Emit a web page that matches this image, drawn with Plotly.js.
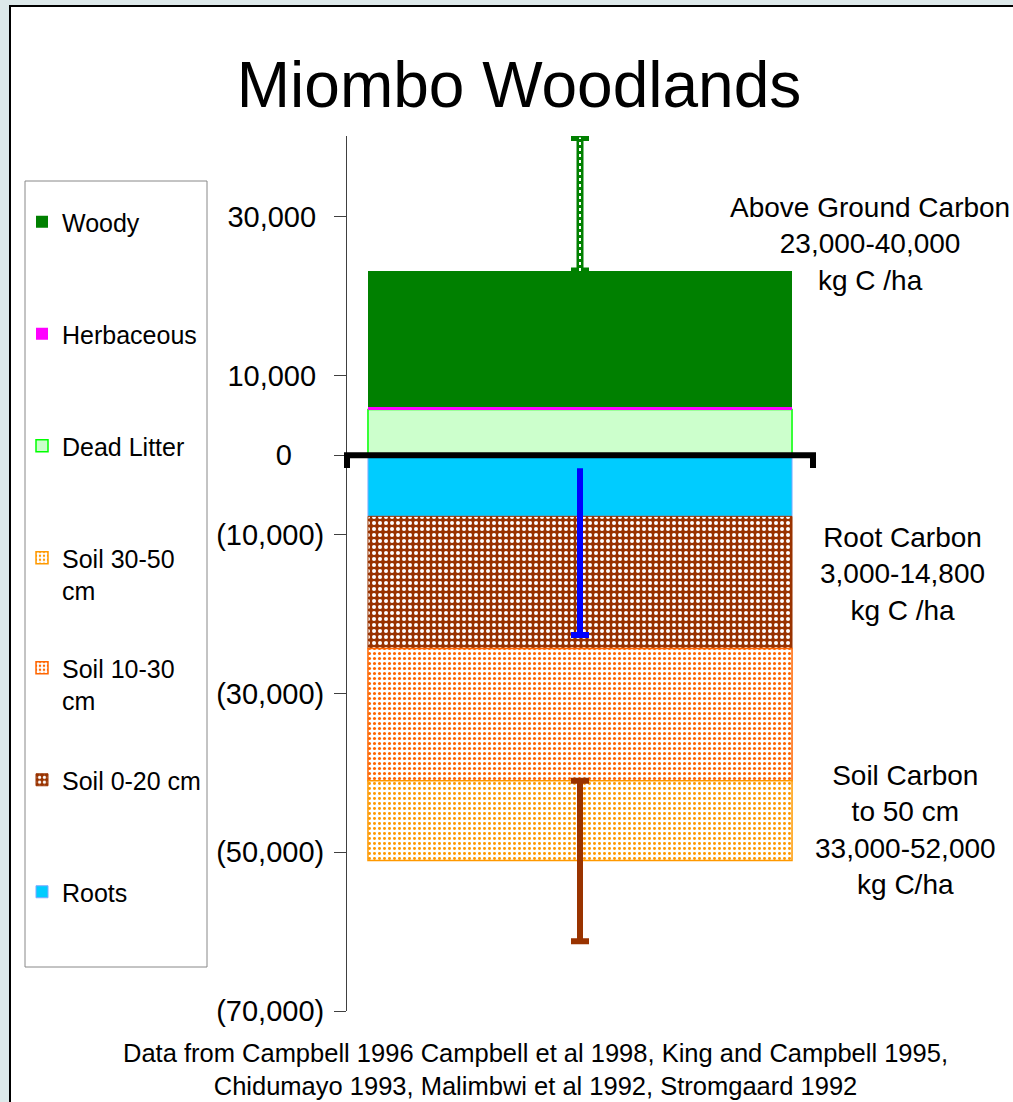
<!DOCTYPE html>
<html>
<head>
<meta charset="utf-8">
<script src="https://cdn.plot.ly/plotly-3.0.1.min.js"></script>
<style>
  html, body { margin: 0; padding: 0; background: #dde9ea; width: 1013px; height: 1102px; overflow: hidden; }
  #frame { position: absolute; left: 9px; top: 5px; width: 1020px; height: 1120px; background: #ffffff;
           border-left: 2px solid #000; border-top: 2px solid #000; }
  #chart { position: absolute; left: 0; top: 0; width: 1013px; height: 1102px; }
</style>
</head>
<body>
<div id="frame"></div>
<div id="chart"></div>
<script>
// ---- data ----
const categories = ['Miombo Woodlands'];
const deadLitter = [5750];
const herbaceous = [330];
const woody = [17120];
const roots = [-7700];
const soil0to20 = [-16650];
const soil10to30 = [-16650];
const soil30to50 = [-10050];
// error ranges (kg C/ha)
const aboveGroundErrUp = [16800];
const rootErrUp = [6060];
const rootErrDown = [14960];
const soilErrDown = [20200];
// axis ticks
const tickValues = [30000, 10000, 0, -10000, -30000, -50000, -70000];
const tickLabels = ['30,000\u00a0', '10,000\u00a0', '0\u2007\u2007', '(10,000)', '(30,000)', '(50,000)', '(70,000)'];
// notes
const aboveNote = 'Above Ground Carbon<br>23,000-40,000<br>kg C /ha';
const rootNote = 'Root Carbon<br>3,000-14,800<br>kg C /ha';
const soilNote = 'Soil Carbon<br>to 50 cm<br>33,000-52,000<br>kg C/ha';
const sourceNote = 'Data from Campbell 1996 Campbell et al 1998, King and Campbell 1995,<br>Chidumayo 1993, Malimbwi et al 1992, Stromgaard 1992';

// ---- layout helpers (pixel -> paper) ----
const PL = 347, PR = 813, PT = 136, PB = 1011;
const px = x => (x - PL) / (PR - PL);
const py = y => (PB - y) / (PB - PT);

const FONT = 'Liberation Sans, Arial, sans-serif';
const BW = 0.91;

const woodyTop = deadLitter[0] + herbaceous[0] + woody[0];
const rootsEnd = roots[0];
const soilMidEnd = roots[0] + soil0to20[0] + soil10to30[0];

const traces = [
  { type: 'bar', name: 'Dead Litter', x: categories, y: deadLitter, width: BW, legend: 'legend3',
    marker: { color: '#ccffcc', line: { color: '#00ff00', width: 1.5 } } },
  { type: 'bar', name: 'Herbaceous', x: categories, y: herbaceous, width: BW, legend: 'legend2',
    marker: { color: '#ff00ff', line: { width: 0 } } },
  { type: 'bar', name: 'Woody', x: categories, y: woody, width: BW, legend: 'legend',
    marker: { color: '#008000', line: { width: 0 } } },
  { type: 'bar', name: 'Roots', x: categories, y: roots, width: BW, legend: 'legend7',
    marker: { color: '#00ccff', line: { color: '#7fa8ff', width: 1 } } },
  { type: 'bar', name: 'Soil 0-20 cm', x: categories, y: soil0to20, width: BW, legend: 'legend6',
    marker: { color: '#993300', line: { color: '#993300', width: 1 },
              pattern: { shape: '.', bgcolor: '#993300', fgcolor: '#ffffff', size: 6, solidity: 0.35, fillmode: 'replace' } } },
  { type: 'bar', name: 'Soil 10-30<br>cm', x: categories, y: soil10to30, width: BW, legend: 'legend5',
    marker: { color: '#ff6600', line: { color: '#ff6600', width: 1.5 },
              pattern: { shape: '.', bgcolor: '#ffffff', fgcolor: '#ff6600', size: 5, solidity: 0.3, fillmode: 'replace' } } },
  { type: 'bar', name: 'Soil 30-50<br>cm', x: categories, y: soil30to50, width: BW, legend: 'legend4',
    marker: { color: '#ff9900', line: { color: '#ff9900', width: 1.5 },
              pattern: { shape: '.', bgcolor: '#ffffff', fgcolor: '#ff9900', size: 5, solidity: 0.28, fillmode: 'replace' } } },
  // above-ground range (green, dotted core)
  { type: 'scatter', mode: 'markers', x: categories, y: [woodyTop], showlegend: false, hoverinfo: 'skip',
    marker: { opacity: 0, size: 1 },
    error_y: { type: 'data', symmetric: false, array: aboveGroundErrUp, arrayminus: [0],
               color: '#008000', thickness: 7, width: 9 } },
  { type: 'scatter', mode: 'lines', x: [categories[0], categories[0]],
    y: [woodyTop, woodyTop + aboveGroundErrUp[0]], showlegend: false, hoverinfo: 'skip',
    line: { color: '#ffffff', width: 2, dash: 'dot' } },
  // root range (blue): stem without caps ...
  { type: 'scatter', mode: 'markers', x: categories, y: [rootsEnd], showlegend: false, hoverinfo: 'skip',
    marker: { opacity: 0, size: 1 },
    error_y: { type: 'data', symmetric: false, array: rootErrUp, arrayminus: rootErrDown,
               color: '#0000ff', thickness: 6, width: 0 } },
  // ... and a cap at the bottom end only
  { type: 'scatter', mode: 'markers', x: categories, y: [rootsEnd - rootErrDown[0]], showlegend: false, hoverinfo: 'skip',
    marker: { opacity: 0, size: 1 },
    error_y: { type: 'data', symmetric: false, array: [0], arrayminus: [0],
               color: '#0000ff', thickness: 6, width: 9 } },
  // soil range (brown)
  { type: 'scatter', mode: 'markers', x: categories, y: [soilMidEnd], showlegend: false, hoverinfo: 'skip',
    marker: { opacity: 0, size: 1 },
    error_y: { type: 'data', symmetric: false, array: [0], arrayminus: soilErrDown,
               color: '#993300', thickness: 6, width: 9 } }
];

function legendAt(yPix) {
  return { x: px(22), xanchor: 'left', y: py(yPix), yanchor: 'middle', valign: 'top',
           bgcolor: 'rgba(0,0,0,0)', borderwidth: 0, font: { family: FONT, size: 25, color: '#000' } };
}

const layout = {
  width: 1013, height: 1102,
  margin: { l: PL, r: 1013 - PR, t: PT, b: 1102 - PB, pad: 0 },
  paper_bgcolor: 'rgba(0,0,0,0)', plot_bgcolor: 'rgba(0,0,0,0)',
  font: { family: FONT, color: '#000' },
  barmode: 'relative', bargap: 0,
  title: { text: 'Miombo Woodlands', font: { family: FONT, size: 64, color: '#000' },
           xref: 'container', x: 519 / 1013, xanchor: 'center',
           yref: 'container', y: 1 - 85 / 1102, yanchor: 'middle' },
  xaxis: { type: 'category', range: [-0.5, 0.5], visible: false, fixedrange: true },
  yaxis: { range: [-70000, 40200], tickvals: tickValues, ticktext: tickLabels,
           showline: true, linecolor: '#404040', linewidth: 1,
           ticks: 'outside', ticklen: 12, tickcolor: '#404040', tickwidth: 1,
           ticklabelstandoff: 4,
           showgrid: false, zeroline: false,
           tickfont: { family: FONT, size: 29, color: '#000' } },
  legend: legendAt(222),
  legend2: legendAt(334),
  legend3: legendAt(446),
  legend4: legendAt(574),
  legend5: legendAt(684),
  legend6: legendAt(780),
  legend7: legendAt(892),
  shapes: [
    { type: 'rect', xref: 'paper', yref: 'paper', x0: px(25), x1: px(207), y0: py(967), y1: py(181),
      line: { color: '#888888', width: 1 }, fillcolor: 'rgba(0,0,0,0)', layer: 'below' },
    { type: 'path', xref: 'paper', yref: 'y', layer: 'above',
      path: 'M0,-1600 L0,0 L1,0 L1,-1600', line: { color: '#000000', width: 6 } }
  ],
  annotations: [
    { text: aboveNote, xref: 'paper', yref: 'paper', x: px(870), y: py(244), xanchor: 'center', yanchor: 'middle',
      showarrow: false, align: 'center', font: { family: FONT, size: 28, color: '#000' } },
    { text: rootNote, xref: 'paper', yref: 'paper', x: px(902), y: py(574), xanchor: 'center', yanchor: 'middle',
      showarrow: false, align: 'center', font: { family: FONT, size: 28, color: '#000' } },
    { text: soilNote, xref: 'paper', yref: 'paper', x: px(905), y: py(830), xanchor: 'center', yanchor: 'middle',
      showarrow: false, align: 'center', font: { family: FONT, size: 28, color: '#000' } },
    { text: sourceNote, xref: 'paper', yref: 'paper', x: px(535), y: py(1069), xanchor: 'center', yanchor: 'middle',
      showarrow: false, align: 'center', font: { family: FONT, size: 25.5, color: '#000' } }
  ]
};

Plotly.newPlot('chart', traces, layout, { displayModeBar: false, staticPlot: true });
</script>
</body>
</html>
